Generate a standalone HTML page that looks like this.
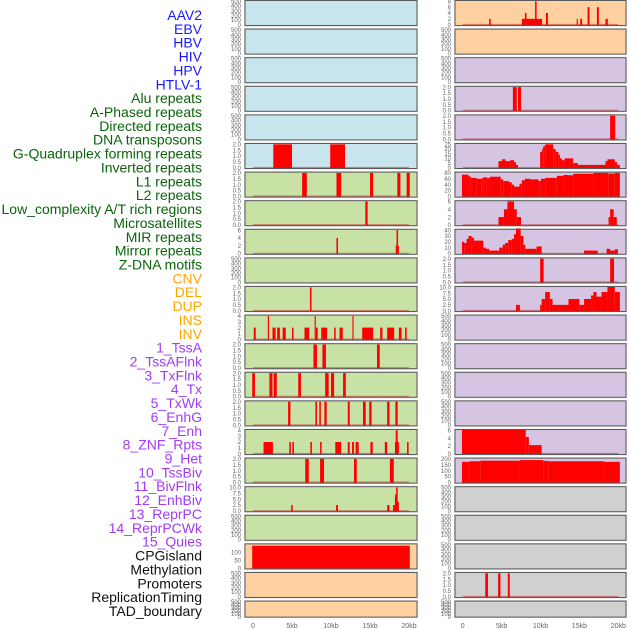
<!DOCTYPE html>
<html><head><meta charset="utf-8">
<style>
html,body{margin:0;padding:0;background:#fff;width:630px;height:630px;overflow:hidden}
svg{display:block}
</style></head>
<body>
<svg id="chart" width="630" height="630" xmlns="http://www.w3.org/2000/svg"></svg>
<script>
const labels=["AAV2","EBV","HBV","HIV","HPV","HTLV-1","Alu repeats","A-Phased repeats","Directed repeats","DNA transposons","G-Quadruplex forming repeats","Inverted repeats","L1 repeats","L2 repeats","Low_complexity A/T rich regions","Microsatellites","MIR repeats","Mirror repeats","Z-DNA motifs","CNV","DEL","DUP","INS","INV","1_TssA","2_TssAFlnk","3_TxFlnk","4_Tx","5_TxWk","6_EnhG","7_Enh","8_ZNF_Rpts","9_Het","10_TssBiv","11_BivFlnk","12_EnhBiv","13_ReprPC","14_ReprPCWk","15_Quies","CPGisland","Methylation","Promoters","ReplicationTiming","TAD_boundary"];
const labelGroups=[6,13,5,15,5];
const xTicks=[0,5,10,15,20];
const xTickLabels=["0","5kb","10kb","15kb","20kb"];
const leftBg=["b","b","b","b","b","b","g","g","g","g","g","g","g","g","g","g","g","g","g","o","o","o"];
const rightBg=["o","o","p","p","p","p","p","p","p","p","p","p","p","p","p","p","p","y","y","y","y","y"];
const leftTicks=[[0,100,200,300,400,500],[0,100,200,300,400,500],[0,100,200,300,400,500],[0,100,200,300,400,500],[0,100,200,300,400,500],[0,0.5,1,1.5,2],[0,0.5,1,1.5,2],[0,0.5,1,1.5,2],[0,2,4,6],[0,100,200,300,400,500],[0,0.5,1,1.5,2],[0,1,2,3,4],[0,0.5,1,1.5,2],[0,0.5,1,1.5,2],[0,0.5,1,1.5,2],[0,1,2,3,4],[0,0.5,1,1.5,2],[0,2.5,5,7.5,10],[0,100,200,300,400,500],[0,50,100],[0,100,200,300,400,500],[0,100,200,300,400,500]];
const leftYMax=[null,null,null,null,null,null,null,null,null,null,null,null,null,null,null,null,null,null,null,146,null,null];
const rightTicks=[[0,2,4,6,8],[0,100,200,300,400,500],[0,100,200,300,400,500],[0,0.5,1,1.5,2],[0,0.5,1,1.5,2],[0,5,10,15,20,25],[0,20,40,60,80],[0,2,4,6],[0,10,20,30,40],[0,0.5,1,1.5,2],[0,2.5,5,7.5,10],[0,100,200,300,400,500],[0,100,200,300,400,500],[0,100,200,300,400,500],[0,100,200,300,400,500],[0,2,4,6],[0,50,100,150,200],[0,100,200,300,400,500],[0,100,200,300,400,500],[0,100,200,300,400,500],[0,0.5,1,1.5,2],[0,100,200,300,400,500]];
const leftSeries=[[],[],[],[],[],
[[2.6,5.0,2],[9.9,11.8,2]],
[[6.3,6.9,2],[10.7,11.3,2],[15.0,15.4,2],[18.5,18.9,2],[19.7,20.1,2]],
[[14.4,14.7,2]],
[[10.7,10.9,4],[18.3,18.7,2],[18.4,18.6,6]],
[],
[[7.3,7.5,2]],
[[0.1,0.35,2],[1.9,2.05,4],[2.5,2.9,2],[3.1,3.45,2],[3.8,4.2,2],[5.0,5.2,2],[6.6,7.2,2],[7.9,8.05,4],[8.05,8.3,2],[8.75,9.5,2],[10.4,10.6,2],[11.1,11.5,2],[12.75,12.9,4],[14.0,15.4,2],[16.3,16.6,2],[17.2,18.1,2],[18.7,19.05,2],[19.5,19.7,2]],
[[7.75,8.2,2],[8.9,9.35,2],[15.9,16.25,2]],
[[-0.1,0.25,2],[2.1,2.5,2],[2.65,3.05,2],[5.8,6.15,2],[9.25,9.7,2],[10.0,10.4,2],[11.55,11.9,2]],
[[4.5,4.8,2],[8.0,8.2,2],[8.5,8.7,2],[9.15,9.45,2],[12.15,12.4,2],[14.1,14.45,2],[14.9,15.2,2],[17.2,17.5,2],[18.25,18.55,2]],
[[1.35,2.55,2],[4.65,4.85,2],[5.05,5.25,2],[7.35,7.55,2],[8.6,8.8,2],[10.55,11.3,2],[12.15,12.4,2],[12.7,12.95,2],[13.15,13.55,2],[15.05,15.35,2],[16.9,17.2,2],[18.2,18.7,2],[18.3,18.55,4],[19.75,19.95,2]],
[[6.7,7.15,2],[8.6,9.1,2],[12.95,13.3,2],[17.55,18.05,2]],
[[4.9,5.1,2.5],[10.65,10.9,2.5],[17.2,17.5,2.5],[17.95,18.2,2.5],[18.2,18.4,7],[18.35,18.55,10],[18.5,18.7,4]],
[],
[[-0.1,20.1,140]],
[],[]];
const rightSeries=[
[[3.4,3.6,2],[7.6,10.2,2],[8.0,8.2,4],[9.3,9.5,8],[10.7,10.95,4],[14.65,14.8,2],[15.1,15.35,2],[16.05,16.3,6],[17.25,17.5,6],[18.35,18.65,2]],
[],[],
[[6.45,6.95,2],[7.1,7.5,2]],
[[18.95,19.6,2]],
[[4.6,5.05,7],[5.05,5.5,9],[5.5,6.1,7],[6.1,6.6,8],[6.6,6.85,6],[6.85,7.1,3],[9.95,10.2,17],[10.2,10.35,20],[10.35,10.6,23],[10.6,11.65,25],[11.65,11.95,20],[11.95,12.3,17],[12.3,12.5,14],[12.5,12.75,10],[12.75,13.1,8],[13.1,14.2,10],[14.2,14.8,5],[14.8,18.35,3],[18.35,18.6,7],[18.6,19.55,9],[19.55,19.85,6],[19.85,20.2,3]],
[[-0.1,0.75,74],[0.75,1.05,68],[1.05,1.8,63],[1.8,2.45,60],[2.45,2.65,62],[2.65,3.1,65],[3.1,3.5,63],[3.5,4.9,67],[4.9,5.2,58],[5.2,5.95,52],[5.95,6.3,48],[6.3,6.6,40],[6.6,7.3,33],[7.3,7.6,43],[7.6,8.0,55],[8.0,8.65,60],[8.65,9.75,58],[9.75,10.05,52],[10.05,10.6,60],[10.6,12.1,63],[12.1,12.95,70],[12.95,13.6,73],[13.6,14.2,72],[14.2,16.8,77],[16.8,18.7,80],[18.7,19.55,78],[19.55,20.2,80]],
[[4.6,5.3,2],[5.3,5.75,4],[5.75,6.6,6],[6.6,6.95,4],[6.95,7.5,2],[18.75,18.95,2],[18.95,19.4,4],[19.4,19.8,2]],
[[-0.1,0.2,20],[0.2,0.5,18],[0.5,0.75,25],[0.75,1.15,30],[1.15,1.45,27],[1.45,2.65,22],[2.65,3.0,10],[3.0,3.4,8],[3.4,4.7,5],[4.7,5.15,10],[5.15,5.45,15],[5.45,5.85,18],[5.85,6.3,23],[6.3,6.6,25],[6.6,6.85,33],[6.85,7.45,43],[7.45,7.8,30],[7.8,8.05,15],[8.05,9.5,8],[9.5,10.15,12],[15.6,17.35,5],[18.5,18.95,8],[18.95,19.55,5],[19.55,19.95,7]],
[[9.95,10.4,2],[18.95,19.45,2]],
[[6.85,7.35,2.5],[9.95,10.15,2.5],[10.15,10.6,5],[10.6,11.2,8],[11.2,11.55,5],[11.55,13.6,2.5],[13.6,15.0,5],[15.0,15.6,2.5],[15.6,16.5,5],[16.5,16.8,6.5],[16.8,17.2,8],[17.2,17.85,6],[17.85,18.6,8],[18.6,19.55,10.5],[19.55,20.2,8]],
[],[],[],[],
[[-0.1,8.1,6.3],[8.1,8.5,4.3],[8.5,10.15,2.2]],
[[-0.1,0.85,175],[0.85,2.25,180],[2.25,7.35,185],[7.35,10.35,190],[10.35,11.0,183],[11.0,18.15,180],[18.15,20.2,175]],
[],[],[],
[[2.9,3.25,2],[4.55,4.85,2],[5.8,6.05,2]],
[]];

const NS="http://www.w3.org/2000/svg";
const svg=document.getElementById('chart');
const bgColors={b:"#c8e4ec",g:"#c8e2a6",o:"#ffd1a0",p:"#d5c5e2",y:"#d0d0d0"};
const groupColors=["#1a1aff","#0a640a","#ffa500","#a23bf5","#111111"];
function mk(tag,attrs){const e=document.createElementNS(NS,tag);for(const k in attrs)e.setAttribute(k,attrs[k]);return e;}

let li=0;
labelGroups.forEach((n,g)=>{for(let j=0;j<n;j++){
  const t=mk('text',{x:202,y:20+li*13.86,'text-anchor':'end','font-size':'14','font-family':'Liberation Sans, sans-serif',fill:groupColors[g]});
  t.textContent=labels[li];
  
  
  svg.appendChild(t);li++;}});

function rowTop(i){return 0.5+i*28.6;}
function rowH(i){return i===21?16:25;}

function drawPanel(col,i,ticks,series,bg,ymax){
  const px=col===0?245:455, pw=col===0?172:171;
  const x0=col===0?253:462.7, x20=col===0?409:618.3;
  const xs=kb=>x0+(x20-x0)*kb/20;
  const top=rowTop(i), h=rowH(i);
  const tmax=ymax||ticks[ticks.length-1];
  const lo=-0.035*tmax, hi=tmax*1.035;
  const ys=v=>top+h-(v-lo)/(hi-lo)*h;
  const g=mk('g',{});
  
  
  svg.appendChild(g);
  g.appendChild(mk('rect',{x:px-1,y:top-1,width:pw+2,height:h+2,fill:'#e0e0e0'}));
  g.appendChild(mk('rect',{x:px,y:top,width:pw,height:h,fill:bgColors[bg]}));
  const tm=ticks[ticks.length-1];
  ticks.forEach(v=>{
    const t=mk('text',{x:px-4,y:ys(v)+2.2,'text-anchor':'end','font-size':'6','font-family':'Liberation Sans, sans-serif',fill:'#666'});
    t.textContent=(tm<=2||(tm===10&&ticks[1]===2.5))?v.toFixed(1):String(v);
    
    
    g.appendChild(t);});
  series.forEach(s=>{
    const r=mk('rect',{x:xs(s[0]),y:ys(s[2]),width:Math.max(xs(s[1])-xs(s[0]),1),height:ys(0)-ys(s[2])+1,fill:'#ff0000'});
    
    
    g.appendChild(r);});
  if(series.length){g.appendChild(mk('line',{x1:xs(0),x2:xs(20),y1:ys(0),y2:ys(0),stroke:'rgba(190,30,30,0.5)','stroke-width':1.5}));}
  g.appendChild(mk('rect',{x:px,y:top,width:pw,height:h,fill:'none',stroke:'#5a5a5a','stroke-width':1}));
}
for(let i=0;i<22;i++){drawPanel(0,i,leftTicks[i],leftSeries[i],leftBg[i],leftYMax[i]);drawPanel(1,i,rightTicks[i],rightSeries[i],rightBg[i],null);}

[0,1].forEach(col=>{
  const x0=col===0?253:462.7, x20=col===0?409:618.3;
  xTicks.forEach((k,j)=>{
    const t=mk('text',{x:x0+(x20-x0)*k/20,y:628,'text-anchor':'middle','font-size':'7','font-family':'Liberation Sans, sans-serif',fill:'#666'});
    t.textContent=xTickLabels[j];
    
    
    svg.appendChild(t);});
});
</script>
</body></html>
